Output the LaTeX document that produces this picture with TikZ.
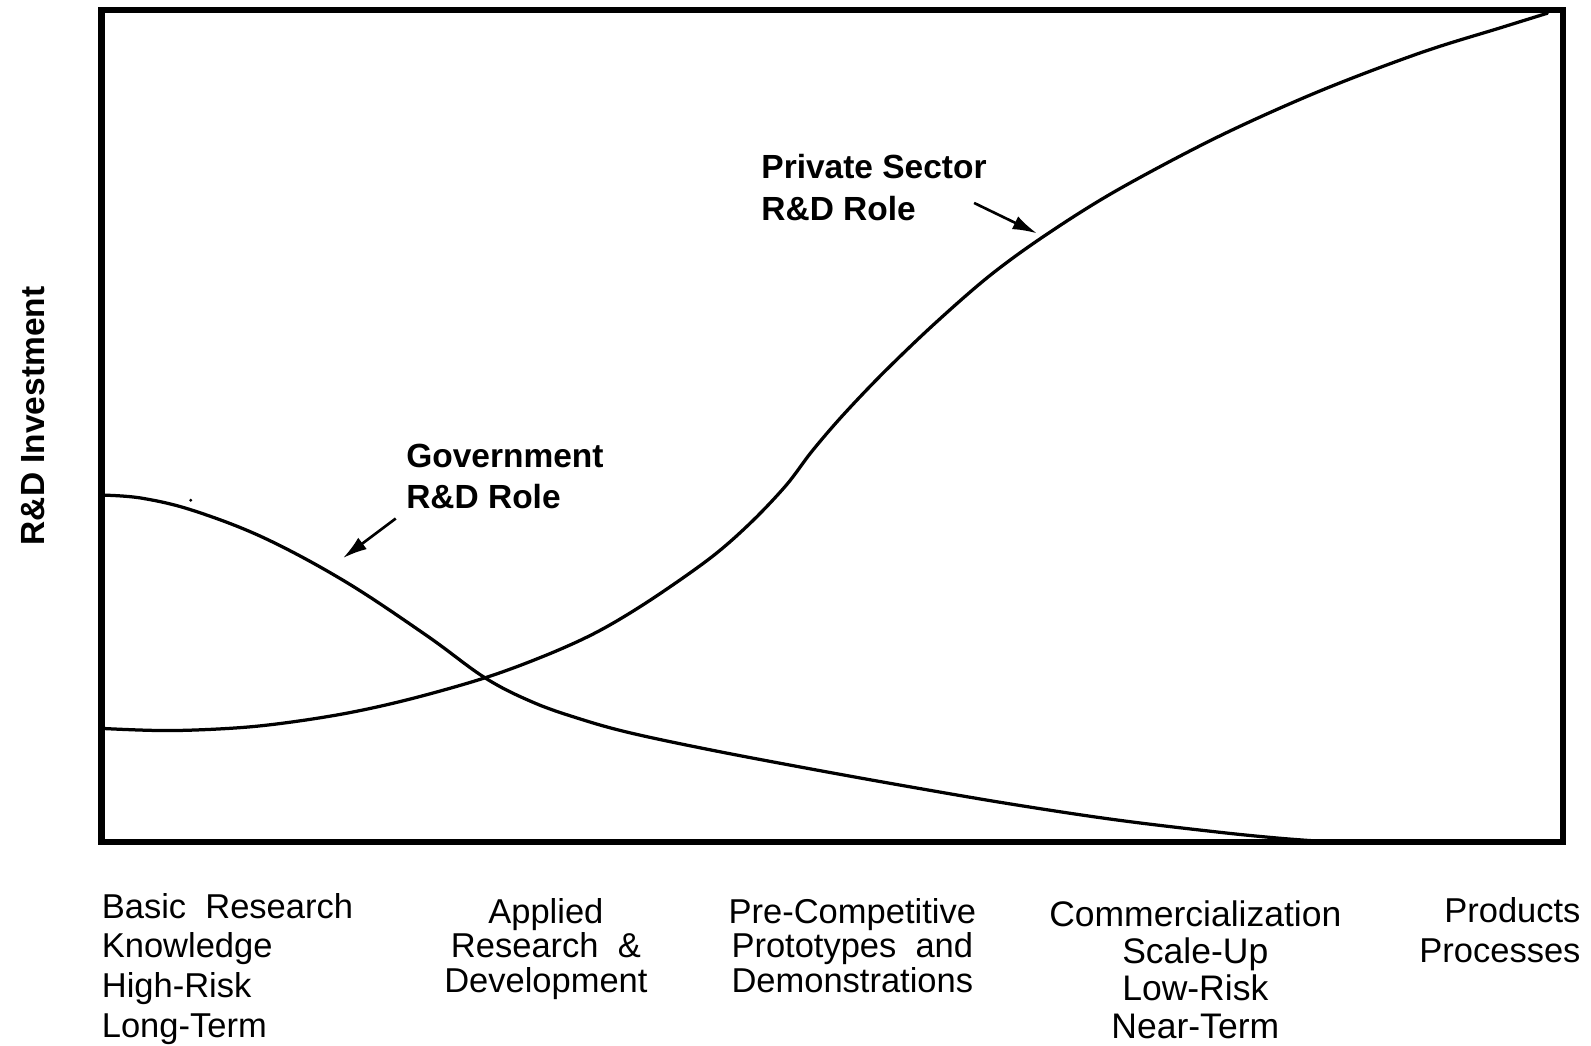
\documentclass[tikz,border=0pt]{standalone}
\usepackage{fontspec}
\setmainfont{Liberation Sans}
\usetikzlibrary{arrows.meta}
\begin{document}
\begin{tikzpicture}[x=0.5pt,y=-0.5pt,
  curve/.style={line width=1.6pt,line join=round,line cap=round},
  frame/.style={line width=3pt},
  pointer/.style={line width=1.3pt,-{Latex[length=12pt,width=7pt]}},
  boldlabel/.style={inner sep=0pt,font=\bfseries\fontsize{16.5}{20.5}\selectfont,align=left,anchor=north west},
  stage/.style={inner sep=0pt,anchor=north}]
\useasboundingbox (0,0) rectangle (1568,1030);
% frame
\draw[frame] (100,10) rectangle (1540,830);
% private sector curve
\draw[curve] plot[smooth,tension=0.55] coordinates {
 (103,718) (170,720) (250,716) (330,705) (400,690) (478,668) (540,645)
 (590,622) (640,592) (700,550) (740,515) (775,478) (800,445) (830,410)
 (870,368) (920,320) (975,272) (1030,232) (1100,188) (1200,135) (1300,90)
 (1400,52) (1480,27) (1525,13)};
% government curve
\draw[curve] plot[smooth,tension=0.6] coordinates {
 (103,488) (140,491) (190,503) (260,530) (340,573) (420,626) (478,668)
 (525,692) (570,708) (620,722) (700,739) (800,758) (900,776) (1000,793) (1100,808)
 (1200,820) (1260,826) (1300,829)};
% speck
\fill (188,493) circle (1.5);
% labels
\node[boldlabel] (priv) at (750,152) {Private Sector\\R\&D Role};
\node[boldlabel] (gov) at (400,437) {Government\\R\&D Role};
\coordinate (privS) at (960,200);
\coordinate (privE) at (1022,230);
\coordinate (govS) at (390,511);
\coordinate (govE) at (338,550);
\draw[pointer] (privS) -- (privE);
\draw[pointer] (govS) -- (govE);
% y axis label
\node[inner sep=0pt,rotate=90,font=\bfseries\fontsize{16.5}{20}\selectfont] (ylab) at (33,410) {R\&D Investment};
% stage labels
\node[stage,anchor=north west,align=left,font=\fontsize{17}{19.5}\selectfont] (s1) at (100,880)
 {Basic\ \ Research\\Knowledge\\High-Risk\\Long-Term};
\node[stage,align=center,font=\fontsize{17}{17}\selectfont] (s2) at (538,885)
 {Applied\\Research\ \ \&\\Development};
\node[stage,align=center,font=\fontsize{17}{17}\selectfont] (s3) at (840,885)
 {Pre-Competitive\\Prototypes\ \ and\\Demonstrations};
\node[stage,align=center,font=\fontsize{17.5}{18.4}\selectfont] (s4) at (1178,887)
 {Commercialization\\Scale-Up\\Low-Risk\\Near-Term};
\node[stage,anchor=north east,align=right,font=\fontsize{17}{20}\selectfont] (s5) at (1558,884)
 {Products\\Processes};
\end{tikzpicture}
\end{document}
